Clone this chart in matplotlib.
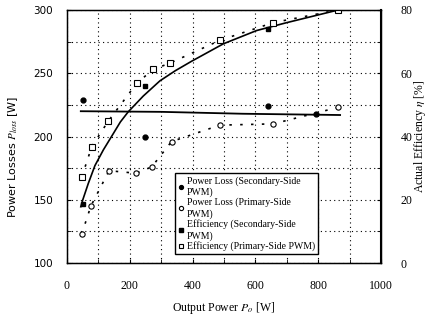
import numpy as np
from matplotlib import pyplot as plt
from matplotlib.ticker import MultipleLocator

plt.rcParams['font.family'] = ['Liberation Serif', 'DejaVu Sans']
plt.rcParams['mathtext.fontset'] = 'stix'

# power loss, secondary-side PWM (left axis, W)
loss_sec_p = [50, 248, 640, 793]
loss_sec = [229, 200, 224, 218]
loss_sec_fit_p = [44, 300, 560, 870]
loss_sec_fit = [220, 219.5, 218, 217]

# power loss, primary-side PWM (left axis, W)
loss_pri_p = [47, 76, 134, 220, 270, 333, 487, 657, 863]
loss_pri = [123, 145, 173, 171, 176, 196, 209, 210, 223]

# efficiency, secondary-side PWM (right axis, %)
eff_sec_p = [50, 248, 640]
eff_sec = [18.8, 56, 74]
eff_sec_fit_p = [44, 50, 68, 89, 116, 148, 170, 195, 243, 296, 345, 397,
                 498, 604, 700, 864]
eff_sec_fit = [17.8, 19.9, 25.2, 30.8, 35.8, 41.0, 44.6, 47.8, 52.8, 57.6,
               60.8, 63.8, 69.3, 73.5, 76, 80]

# efficiency, primary-side PWM (right axis, %)
eff_pri_p = [47, 79, 131, 222, 274, 328, 487, 657, 863]
eff_pri = [27.2, 36.8, 44.8, 56.8, 61.2, 63.2, 70.4, 76, 80]

fig = plt.figure(figsize=(4.28, 3.22), dpi=100)
ax = fig.add_axes([0.1565, 0.183, 0.7335, 0.786])
ax2 = ax.twinx()

ax.set_xlim(0, 1000)
ax.set_ylim(100, 300)
ax2.set_ylim(0, 80)
ax.xaxis.set_major_locator(MultipleLocator(200))
ax.xaxis.set_minor_locator(MultipleLocator(100))
ax.yaxis.set_major_locator(MultipleLocator(50))
ax.yaxis.set_minor_locator(MultipleLocator(25))
ax2.yaxis.set_major_locator(MultipleLocator(20))
ax2.yaxis.set_minor_locator(MultipleLocator(10))
ax.grid(True, which='both', color='k', linestyle=(0, (1, 3)), linewidth=0.8)

ax.tick_params(which='both', direction='in', length=3, labelsize=8.5, pad=12)
ax.tick_params(axis='y', pad=10)
ax2.tick_params(which='both', direction='in', length=3, labelsize=8.5, pad=14)
for lbl in ax.get_yticklabels():
    lbl.set_family('DejaVu Sans')
    lbl.set_fontsize(7.5)

# lines
ax.plot(loss_sec_fit_p, loss_sec_fit, color='k', lw=1.3)
ax.plot(loss_pri_p, loss_pri, color='k', lw=1.2, linestyle=(0, (1.5, 5)))
ax2.plot(eff_sec_fit_p, eff_sec_fit, color='k', lw=1.2)
ax2.plot(eff_pri_p, eff_pri, color='k', lw=1.2, linestyle=(0, (1.5, 5)))

# markers
h1, = ax.plot(loss_sec_p, loss_sec, 'o', color='k', ms=3.5, linestyle='none',
              label='Power Loss (Secondary-Side\nPWM)')
h2, = ax.plot(loss_pri_p, loss_pri, 'o', mfc='white', mec='k', ms=3.8, mew=0.8,
              linestyle='none', label='Power Loss (Primary-Side\nPWM)')
h3, = ax2.plot(eff_sec_p, eff_sec, 's', color='k', ms=3.5, linestyle='none',
               label='Efficiency (Secondary-Side\nPWM)')
h4, = ax2.plot(eff_pri_p, eff_pri, 's', mfc='white', mec='k', ms=3.8, mew=0.8,
               linestyle='none', label='Efficiency (Primary-Side PWM)')

leg = ax2.legend(handles=[h1, h2, h3, h4], loc='lower left',
                 bbox_to_anchor=(0.33, 0.015), fontsize=7, frameon=True,
                 fancybox=False, edgecolor='k', framealpha=1,
                 handlelength=0.6, handletextpad=0.3, labelspacing=0.1,
                 borderpad=0.3, markerscale=0.8)
leg.get_frame().set_linewidth(1.0)

ax.set_xlabel('Output Power $P_o$ [W]', fontsize=8.5, labelpad=6)
ax.set_ylabel('Power Losses $P_{loss}$ [W]', fontsize=8, family='DejaVu Sans')
ax.yaxis.set_label_coords(-0.15, 0.42)
ax2.set_ylabel('Actual Efficiency $\\eta$ [%]', fontsize=8.5)
ax2.yaxis.set_label_coords(1.1, 0.5)

for s in ax.spines.values():
    s.set_linewidth(1.0)
ax2.spines['right'].set_linewidth(1.5)

fig.savefig('out.png', dpi=100)
